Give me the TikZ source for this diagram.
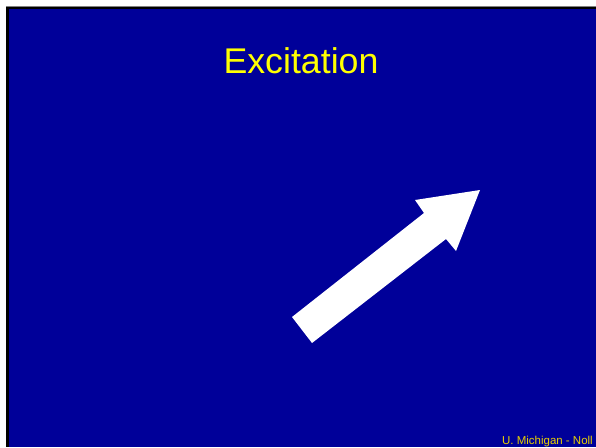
\documentclass[tikz,border=0pt]{standalone}
\usepackage{fontspec}
\setmainfont{Liberation Sans}
\usepackage{xcolor}
\usepackage{tikz}
\definecolor{slidebg}{HTML}{000099}
\definecolor{titlec}{HTML}{FFFF00}
\definecolor{footc}{HTML}{E8D000}
\definecolor{edgegray}{HTML}{808080}
\tikzset{
  px/.style={x=0.03cm,y=-0.03cm},
  ttl/.style={font=\fontsize{30.5}{32}\selectfont,text=titlec,inner sep=0pt},
  foot/.style={font=\fontsize{9.8}{10}\selectfont,text=footc,inner sep=0pt,anchor=base east},
  bigarrow/.style={fill=white,draw=none}
}
\begin{document}
\begin{tikzpicture}[px]
\useasboundingbox (0,0) rectangle (596,447);
\fill[white] (0,0) rectangle (596,447);
\fill[edgegray] (6,5.5) rectangle (596,7);
\fill[black] (6,7) rectangle (596,9);
\fill[black] (6,7) rectangle (9,447);
\fill[slidebg] (9,9) rectangle (596,447);
\node[ttl] (title) at (301,61) {Excitation};
% white arrow
\fill[bigarrow] (292,317) -- (312,343) -- (446,239) -- (456,251) -- (480,190)
  -- (415,200) -- (424,213) -- cycle;
\node[foot] (credit) at (593,444) {U. Michigan - Noll};
\end{tikzpicture}
\end{document}
